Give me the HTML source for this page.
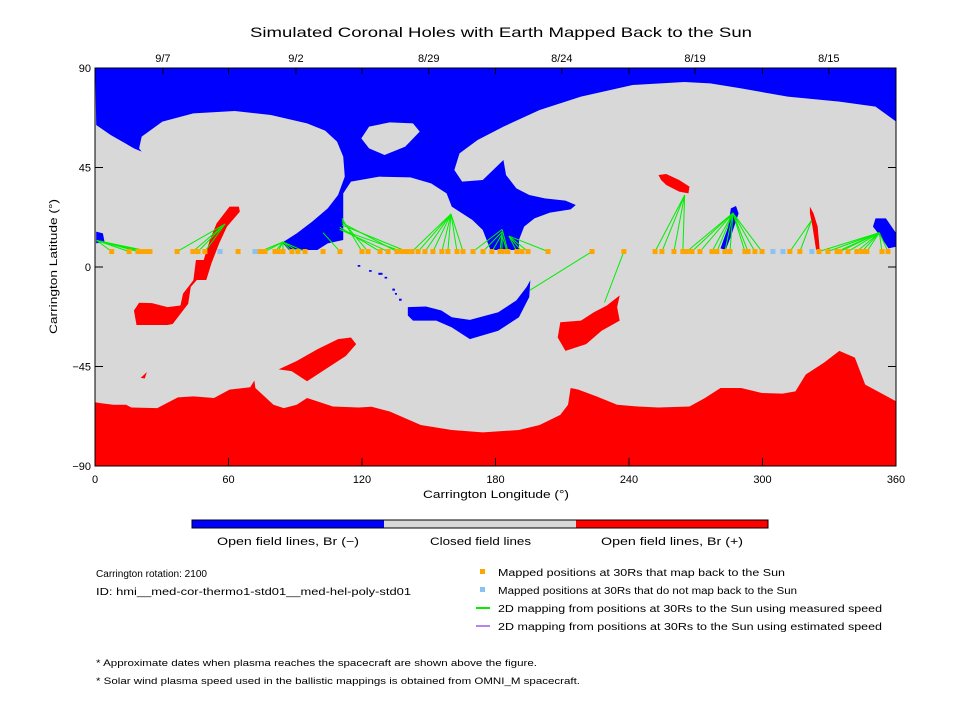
<!DOCTYPE html>
<html><head><meta charset="utf-8"><style>
body{margin:0;background:#fff;width:960px;height:720px;overflow:hidden;font-family:"Liberation Sans",sans-serif}
svg{position:absolute;left:0;top:0}
text{font-family:"Liberation Sans",sans-serif;fill:#000}
</style></head><body>
<svg id="chart" width="960" height="720">
<text x="250" y="37" font-size="14" textLength="502" lengthAdjust="spacingAndGlyphs">Simulated Coronal Holes with Earth Mapped Back to the Sun</text>
<clipPath id="pc"><rect x="95" y="68" width="801" height="398"/></clipPath>
<g clip-path="url(#pc)">
<rect x="95" y="68" width="801" height="398" fill="#d8d8d8"/>
<g transform="translate(90,60) scale(0.5168,0.3333)">
<polygon fill="#0000ff" points="10,0 1560,0 1560,185 1520,140 1450,125 1350,110 1260,85 1200,70 1150,66 1050,75 950,110 870,150 800,200 750,240 715,280 705,330 720,365 760,360 800,300 805,345 825,385 850,405 880,415 920,422 940,435 930,448 890,458 860,475 840,500 830,540 830,570 775,570 760,510 740,480 700,440 690,400 660,370 620,352 560,350 505,365 490,400 490,540 460,550 440,570 385,570 372,548 400,520 430,485 460,445 480,405 493,350 490,290 478,245 455,212 420,190 350,165 280,153 200,160 140,185 100,230 95,265 100,275 85,265 40,225 12,195"/>
<polygon fill="#d8d8d8" points="525,235 540,200 580,187 625,190 638,215 610,260 570,285 540,265"/>
<polygon fill="#0000ff" points="12,515 25,520 28,545 12,550"/>
<polygon fill="#ff0000" points="270,440 288,440 290,455 265,500 250,550 235,610 225,660 205,660 220,600 232,540 245,490"/>
<polygon fill="#ff0000" points="1100,345 1115,342 1140,360 1160,380 1158,400 1140,395 1115,375 1105,360"/>
<polygon fill="#0000ff" points="1240,445 1250,438 1255,460 1240,530 1230,570 1220,565 1235,500"/>
<polygon fill="#ff0000" points="1393,440 1400,460 1408,500 1412,570 1405,570 1398,500 1393,460"/>
<polygon fill="#0000ff" points="1520,475 1540,475 1560,520 1560,560 1545,565 1530,530 1515,500"/>
</g>
<g transform="translate(90,260) scale(0.5168,0.3367)">
<polygon fill="#ff0000" points="205,0 232,0 215,45 195,80 190,130 170,170 160,190 150,193 90,193 85,150 95,127 120,128 150,140 175,135 180,100 200,60"/>
<polygon fill="#0000ff" points="615,140 650,138 680,150 700,170 735,178 790,155 825,120 845,80 852,60 850,110 830,170 790,210 735,235 700,200 670,180 625,180 615,165"/>
<polygon fill="#ff0000" points="910,185 950,180 975,155 1000,135 1025,105 1020,140 1025,180 990,210 960,250 920,270 905,230"/>
<polygon fill="#ff0000" points="365,325 400,300 440,265 480,235 505,230 515,250 495,285 460,320 420,360 390,330"/>
<polygon fill="#ff0000" points="98,350 110,333 106,352"/>
<polygon fill="#ff0000" points="0,420 20,425 45,430 70,430 80,438 130,440 170,408 200,405 240,410 270,385 310,378 318,358 320,380 355,430 375,440 400,430 420,410 440,420 470,435 520,438 545,436 580,450 640,490 700,505 760,512 830,505 870,490 910,460 925,430 930,380 945,385 980,405 1020,430 1060,435 1100,438 1160,435 1190,410 1220,380 1260,380 1300,395 1340,397 1365,390 1385,340 1420,305 1450,270 1480,290 1500,370 1530,395 1560,420 1560,624 0,624"/>
<g fill="#0000ff"><rect x="518" y="15" width="5" height="5"/><rect x="540" y="30" width="5" height="5"/><rect x="558" y="38" width="8" height="6"/><rect x="570" y="50" width="5" height="5"/><rect x="585" y="85" width="5" height="6"/><rect x="590" y="98" width="4" height="5"/><rect x="598" y="115" width="5" height="6"/></g>
</g>
<g id="marks"></g>
</g>
<rect x="95" y="68" width="801" height="398" fill="none" stroke="#000" stroke-width="1"/>
<g id="axes"></g>
<g>
<rect x="192" y="520" width="192" height="8" fill="#0000ff"/><rect x="384" y="520" width="192" height="8" fill="#d8d8d8"/><rect x="576" y="520" width="192" height="8" fill="#ff0000"/>
<rect x="192" y="520" width="576" height="8" fill="none" stroke="#000"/>
<text x="217" y="545" font-size="11" textLength="142" lengthAdjust="spacingAndGlyphs">Open field lines, Br (−)</text>
<text x="430" y="545" font-size="11" textLength="101" lengthAdjust="spacingAndGlyphs">Closed field lines</text>
<text x="601" y="545" font-size="11" textLength="142" lengthAdjust="spacingAndGlyphs">Open field lines, Br (+)</text>
</g>
<g font-size="10">
<text x="96" y="577" textLength="111" lengthAdjust="spacingAndGlyphs">Carrington rotation: 2100</text>
<text x="96" y="595" textLength="315" lengthAdjust="spacingAndGlyphs">ID: hmi__med-cor-thermo1-std01__med-hel-poly-std01</text>
<text x="96" y="666" font-size="9" textLength="441" lengthAdjust="spacingAndGlyphs">* Approximate dates when plasma reaches the spacecraft are shown above the figure.</text>
<text x="96" y="684" font-size="9" textLength="484" lengthAdjust="spacingAndGlyphs">* Solar wind plasma speed used in the ballistic mappings is obtained from OMNI_M spacecraft.</text>
</g>
<g font-size="10">
<rect x="480" y="569" width="5" height="5" fill="#ffa500"/><text x="498" y="576" textLength="287" lengthAdjust="spacingAndGlyphs">Mapped positions at 30Rs that map back to the Sun</text>
<rect x="480" y="587" width="5" height="5" fill="#87c3f5"/><text x="498" y="594" textLength="299" lengthAdjust="spacingAndGlyphs">Mapped positions at 30Rs that do not map back to the Sun</text>
<line x1="476" x2="490" y1="608" y2="608" stroke="#00ee00" stroke-width="2"/><text x="498" y="612" textLength="384" lengthAdjust="spacingAndGlyphs">2D mapping from positions at 30Rs to the Sun using measured speed</text>
<line x1="476" x2="490" y1="626" y2="626" stroke="#b088ee" stroke-width="2"/><text x="498" y="630" textLength="384" lengthAdjust="spacingAndGlyphs">2D mapping from positions at 30Rs to the Sun using estimated speed</text>
</g>
</svg>
<script>
const pointLon=[7.5,15.3,19.3,21.1,23.4,24.7,36.9,44,46.3,49.4,56.2,64.3,71.9,74.2,76.4,80.9,82.2,84.5,88.5,91.2,94.4,102.5,110.1,120,122.7,128.1,131.7,135.7,138,140.2,142.5,145.2,148.3,151.9,155.9,158.6,162.7,165.4,169.9,174.4,178.4,182,185.6,182.9,185.2,189.6,191.9,194.6,203.6,223.4,237.7,251.7,254.8,260.2,264.2,266,268.3,271.9,277.3,279.5,283.1,285.4,292.1,293.5,296.6,299.8,304.7,309.2,312.3,316.8,322.2,325.4,329.4,333.5,334.8,338.4,342.4,344.7,346.9,353.7,356.4];
const pointLat=7.0;
const mapped=[1,1,1,1,1,1,1,1,1,1,0,1,0,1,1,1,1,1,1,1,1,1,1,1,1,1,1,1,1,1,1,1,1,1,1,1,1,1,1,1,1,1,1,1,1,1,1,1,1,1,1,1,1,1,1,1,1,1,1,1,1,1,1,1,1,1,0,0,1,1,0,1,1,1,1,1,1,1,1,1,1];
const footLon=[0.8,0.8,0.8,0.8,0.8,0.8,58.5,58.5,58.5,58.5,null,null,null,84.5,84.5,84.5,84.5,84.5,84.5,84.5,84.5,null,102.5,111,111,110,110,111,110,111,160,160,160,160,160,160,160,160,183,183,183,183,183,183,183,186,186,186,186,195.5,229,265,265,265,265,286.7,286.7,286.7,286.7,286.7,286.7,286.7,286.7,286.7,286.7,286.7,null,null,322,322,null,352.5,352.5,352.5,352.5,352.5,352.5,352.5,352.5,352.5,352.5];
const footLat=[12,12,12,12,12,12,19.5,19.5,19.5,19.5,null,null,null,11.3,11.3,11.3,11.3,11.3,11.3,11.3,11.3,null,15.5,22,21,18,17,20,17,19,24,24,24,24,24,24,24,24,17,16,15,16,17,15,14,14,14,14,14,-10.5,-16,32.5,32.5,32.5,32.5,24.4,24.4,24.4,24.4,24.4,24.4,24.4,24.4,24.4,24.4,24.4,null,null,21,21,null,15.5,15.5,15.5,15.5,15.5,15.5,15.5,15.5,15.5,15.5];
const xTicks=[0,60,120,180,240,300,360];
const yTicks=[90,45,0,-45,-90];
const dateLabels=["9/7","9/2","8/29","8/24","8/19","8/15"];
const dateLon=[30.5,90.3,150,209.8,269.7,329.8];
const minorDateLon=[60,120,180,240,300];
const NS='http://www.w3.org/2000/svg';
const X0=95,X1=896,Y0=68,Y1=466;
const xs=v=>X0+(v/360)*(X1-X0);
const ys=v=>Y0+((90-v)/180)*(Y1-Y0);
function mk(tag,attrs,parent){const e=document.createElementNS(NS,tag);for(const k in attrs)e.setAttribute(k,attrs[k]);parent.appendChild(e);return e;}
const marks=document.getElementById('marks');
pointLon.forEach((lo,i)=>{
  if(footLon[i]!==null){
    const l=mk('line',{x1:xs(lo),y1:ys(pointLat),x2:xs(footLon[i]),y2:ys(footLat[i]),stroke:'#00ee00','stroke-width':1},marks);
    
    
  }
});
pointLon.forEach((lo,i)=>{
  const r=mk('rect',{x:xs(lo)-2.5,y:ys(pointLat)-2.5,width:5,height:5,fill:mapped[i]?'#ffa500':'#87c3f5'},marks);
  
  
});
const ax=document.getElementById('axes');
xTicks.forEach(t=>{
  mk('line',{x1:xs(t),x2:xs(t),y1:Y1,y2:Y1-8,stroke:'#000'},ax);
  const tx=mk('text',{x:xs(t),y:Y1+17,'font-size':11,'text-anchor':'middle'},ax);tx.textContent=t;
  
  
});
yTicks.forEach(t=>{
  mk('line',{x1:X0,x2:X0+8,y1:ys(t),y2:ys(t),stroke:'#000'},ax);
  mk('line',{x1:X1,x2:X1-8,y1:ys(t),y2:ys(t),stroke:'#000'},ax);
  const tx=mk('text',{x:X0-4,y:ys(t)+4,'font-size':11,'text-anchor':'end'},ax);tx.textContent=(t<0?'−':'')+Math.abs(t);
  
  
});
dateLon.forEach((d,i)=>{
  mk('line',{x1:xs(d),x2:xs(d),y1:Y0,y2:Y0+6,stroke:'#000'},ax);
  const tx=mk('text',{x:xs(d),y:Y0-6,'font-size':11,'text-anchor':'middle'},ax);tx.textContent=dateLabels[i];
  
  
});
minorDateLon.forEach(d=>{mk('line',{x1:xs(d),x2:xs(d),y1:Y0,y2:Y0+6,stroke:'#000'},ax);});
const xt=mk('text',{x:423,y:498,'font-size':11,textLength:146,lengthAdjust:'spacingAndGlyphs'},ax);xt.textContent='Carrington Longitude (°)';


const yt=mk('text',{x:-67,y:0,'font-size':11,textLength:135,lengthAdjust:'spacingAndGlyphs',transform:'translate(57,267) rotate(-90)'},ax);yt.textContent='Carrington Latitude (°)';


</script>
</body></html>
